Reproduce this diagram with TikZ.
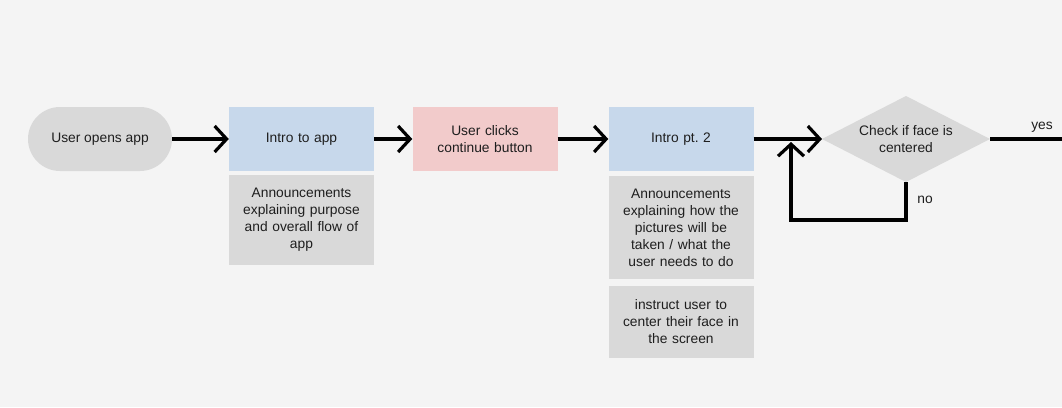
\documentclass[tikz,border=0pt]{standalone}
\usepackage{fontspec}
\setmainfont{Liberation Sans}
\usetikzlibrary{arrows.meta,shapes.geometric}
\definecolor{bg}{HTML}{F4F4F4}
\definecolor{grayfill}{HTML}{D9D9D9}
\definecolor{bluefill}{HTML}{C7D8EB}
\definecolor{pinkfill}{HTML}{F2CBCB}
\definecolor{txt}{HTML}{1E1E1E}
\begin{document}
\begin{tikzpicture}[x=1pt,y=-1pt,
  every node/.style={font=\fontsize{13.8}{17}\selectfont, text=txt, align=center, inner sep=0pt},
  boxA/.style={rectangle, minimum width=145pt, minimum height=64pt, text width=140pt},
  conn/.style={line width=3.2pt, -{Straight Barb[length=12pt,width=26pt,line width=3.2pt]}},
  plain/.style={line width=3.2pt}
]
\useasboundingbox[fill=bg] (0,0) rectangle (1062,407);
\node[rectangle, rounded corners=32pt, fill=grayfill, minimum width=144pt, minimum height=64pt] (start) at (100,139) {User opens app};
\node[boxA, fill=bluefill] (intro) at (301.5,139) {Intro to app};
\node[boxA, fill=grayfill, minimum height=90pt] (ann1) at (301.5,220) {Announcements\\explaining purpose\\and overall flow of\\app};
\node[boxA, fill=pinkfill] (click) at (485,139) {User clicks\\continue button};
\node[boxA, fill=bluefill] (intro2) at (681,139) {Intro pt.\ 2};
\node[boxA, fill=grayfill, minimum height=103pt] (ann2) at (681,227.5) {Announcements\\explaining how the\\pictures will be\\taken / what the\\user needs to do};
\node[boxA, fill=grayfill, minimum height=72pt] (instr) at (681,322) {instruct user to\\center their face in\\the screen};
\path[fill=grayfill] (822,139) -- (906,96) -- (990,139) -- (906,182) -- cycle;
\node (check) at (906,139) {Check if face is\\centered};
\coordinate (dl) at (822,139);
\coordinate (dr) at (990,139);
\coordinate (db) at (906,182);
\coordinate (nocorner1) at (906,220);
\coordinate (nocorner2) at (791,220);
\coordinate (noend) at (791,142);
\coordinate (yesend) at (1062,139);

\draw[conn] (start.east) -- (intro.west);
\draw[conn] (intro.east) -- (click.west);
\draw[conn] (click.east) -- (intro2.west);
\draw[conn] (intro2.east) -- (dl);
\draw[plain] (dr) -- (yesend);
\node at (1042,127) {yes};
\draw[conn, line join=miter] (db) -- (nocorner1) -- (nocorner2) -- (noend);
\node at (925,200) {no};
\end{tikzpicture}
\end{document}
